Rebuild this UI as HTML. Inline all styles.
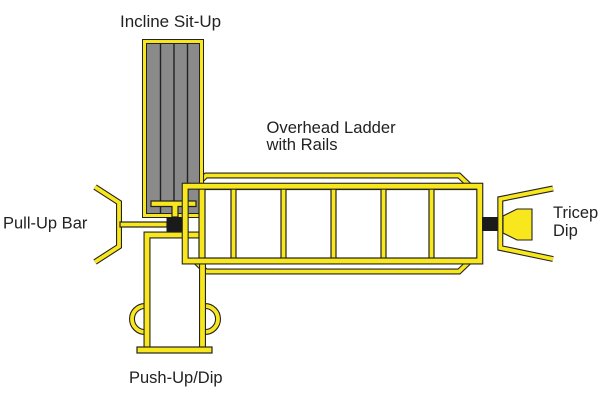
<!DOCTYPE html>
<html><head><meta charset="utf-8"><style>
html,body{margin:0;padding:0;background:#fff;}
svg{display:block;}
text{font-family:"Liberation Sans",Arial,sans-serif;fill:#222;}
</style></head><body>
<svg width="600" height="400" viewBox="0 0 600 400" xmlns="http://www.w3.org/2000/svg">
<rect width="600" height="400" fill="#fff"/>

<!-- Rails -->
<g fill="none" stroke-linejoin="miter">
<path d="M195,186 L206,175.5 L459,175.5 L470,186" stroke="#222" stroke-width="6"/>
<path d="M195,186 L206,175.5 L459,175.5 L470,186" stroke="#f8e71c" stroke-width="3.8"/>
<path d="M195,261 L206,271.5 L459,271.5 L470,261" stroke="#222" stroke-width="6"/>
<path d="M195,261 L206,271.5 L459,271.5 L470,261" stroke="#f8e71c" stroke-width="3.8"/>
</g>

<!-- Incline Sit-Up -->
<rect x="144.5" y="41.5" width="57" height="174" fill="#8a8a8a" stroke="#222" stroke-width="5"/>
<rect x="144.5" y="41.5" width="57" height="174" fill="none" stroke="#f8e71c" stroke-width="3"/>
<g stroke="#222" stroke-width="1.4">
<line x1="160.5" y1="43" x2="160.5" y2="213"/>
<line x1="174" y1="43" x2="174" y2="213"/>
<line x1="187.5" y1="43" x2="187.5" y2="213"/>
</g>

<!-- T-bar -->
<path d="M151,201 L196,201 L196,206.5 L178,206.5 L178,217 L172,217 L172,206.5 L151,206.5 Z" fill="#f8e71c" stroke="#222" stroke-width="1.2"/>

<!-- Pull-up bracket -->
<path d="M95,187 L119,202.5 L119,246.5 L95,262" fill="none" stroke="#222" stroke-width="6"/>
<path d="M95,187 L119,202.5 L119,246.5 L95,262" fill="none" stroke="#f8e71c" stroke-width="3.8"/>
<rect x="120" y="222" width="47" height="5" fill="#f8e71c" stroke="#222" stroke-width="1.2"/>

<!-- black block -->
<rect x="166.5" y="217" width="16.5" height="15" fill="#1a1a1a"/>

<!-- Push-Up / Dip -->
<g fill="none">
<path d="M145,306 A13,13 0 0 0 145,332" stroke="#222" stroke-width="6"/>
<path d="M145,306 A13,13 0 0 0 145,332" stroke="#f8e71c" stroke-width="3.8"/>
<path d="M205,306 A13,13 0 0 1 205,332" stroke="#222" stroke-width="6"/>
<path d="M205,306 A13,13 0 0 1 205,332" stroke="#f8e71c" stroke-width="3.8"/>
<path d="M147,348 L147,235 L202.5,235 L202.5,348" stroke="#222" stroke-width="7"/>
<path d="M147,348 L147,235 L202.5,235 L202.5,348" stroke="#f8e71c" stroke-width="4.8"/>
</g>
<rect x="137" y="347" width="75" height="6" fill="#f8e71c" stroke="#222" stroke-width="1.2"/>

<!-- Ladder -->
<rect x="199" y="189" width="278" height="69" fill="#f8e71c" stroke="#222" stroke-width="1.2"/>
<g fill="#fff" stroke="#222" stroke-width="1.2">
<rect x="205" y="189.5" width="26" height="68.5"/>
<rect x="236" y="189.5" width="45" height="68.5"/>
<rect x="286" y="189.5" width="45" height="68.5"/>
<rect x="336" y="189.5" width="45" height="68.5"/>
<rect x="386" y="189.5" width="43" height="68.5"/>
<rect x="434" y="189.5" width="43" height="68.5"/>
</g>
<rect x="185.2" y="186.2" width="294.6" height="74.8" fill="none" stroke="#222" stroke-width="7"/>
<rect x="185.2" y="186.2" width="294.6" height="74.8" fill="none" stroke="#f8e71c" stroke-width="4.8"/>

<!-- Tricep dip -->
<rect x="482" y="217" width="16" height="14" fill="#1a1a1a"/>
<path d="M553,188.5 L500.3,199 L500.3,248 L553,259" fill="none" stroke="#222" stroke-width="6"/>
<path d="M553,188.5 L500.3,199 L500.3,248 L553,259" fill="none" stroke="#f8e71c" stroke-width="3.8"/>
<path d="M503,216 L517,209 L532,209 L532,240 L517,240 L503,233 Z" fill="#f8e71c" stroke="#222" stroke-width="1.1"/>

<!-- Labels -->
<text x="120" y="27" font-size="17">Incline Sit-Up</text>
<text x="266.5" y="133" font-size="16.6">Overhead Ladder</text>
<text x="266.5" y="150" font-size="16.6">with Rails</text>
<text x="3" y="228.5" font-size="16.5">Pull-Up Bar</text>
<text x="553" y="218" font-size="16.5">Tricep</text>
<text x="553" y="236" font-size="16.5">Dip</text>
<text x="129" y="383" font-size="16.5">Push-Up/Dip</text>
</svg>
</body></html>
